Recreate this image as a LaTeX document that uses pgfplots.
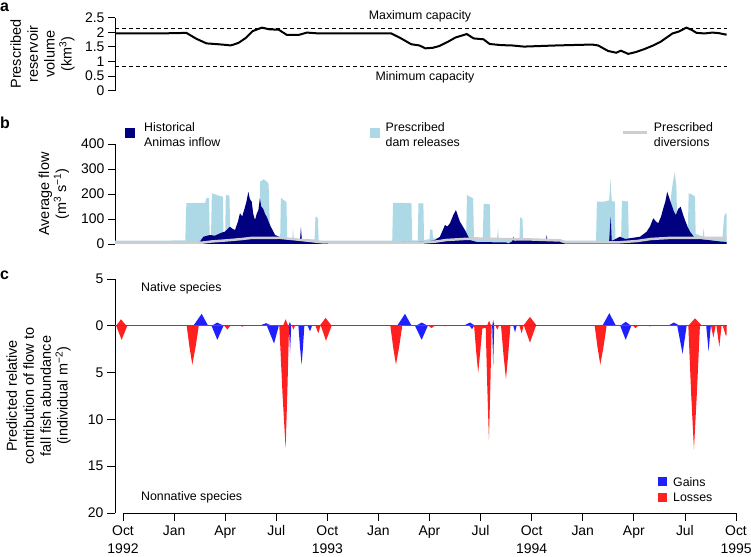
\documentclass[border=0pt]{standalone}
\usepackage{fontspec}
\setmainfont{Liberation Sans}
\usepackage{pgfplots}
\pgfplotsset{compat=1.18}
\definecolor{navyc}{RGB}{0,0,128}
\definecolor{lblue}{RGB}{173,216,230}
\definecolor{lgray}{RGB}{205,205,210}
\definecolor{rred}{RGB}{255,32,32}
\definecolor{bblue}{RGB}{32,32,255}
\pgfplotsset{
  common/.style={anchor=south west, scale only axis, width=621bp,
    xmin=-0.47, xmax=36, axis y line*=left,
    axis line style={-, line width=0.8bp, black},
    tick align=outside, major tick length=7bp,
    tick style={black, line width=0.8bp},
    tick label style={font=\fontsize{14}{16}\selectfont},
    /pgf/number format/assume math mode=true, clip=false}
}
\begin{document}
\begin{tikzpicture}[x=1bp,y=1bp]
\useasboundingbox (0,0) rectangle (751,557);

% ---------------- panel a
\begin{axis}[common, axis x line=none, at={(115bp,466.3bp)}, height=73bp, ymin=0, ymax=2.5,
  ytick={0,0.5,1,1.5,2,2.5}]
\addplot[black, line width=1bp, dash pattern=on 4bp off 3bp] coordinates {(-0.47,2.14)(35.45,2.14)};
\addplot[black, line width=1bp, dash pattern=on 4bp off 3bp] coordinates {(-0.47,0.82)(35.45,0.82)};
\addplot[black, line width=2bp] coordinates {
(-0.47,1.96)(0,1.96)(1,1.96)(2,1.96)(3,1.97)(3.72,1.98)(4.3,1.78)(4.9,1.62)(5.6,1.59)(6.0,1.57)(6.31,1.55)(6.5,1.58)(6.79,1.64)(7.2,1.8)(7.61,2.04)(8.16,2.16)(8.6,2.1)(9.14,2.09)(9.62,1.91)(10.32,1.91)(10.8,1.99)(11.5,1.96)(13,1.96)(15.75,1.96)(16.3,1.8)(16.93,1.59)(17.4,1.55)(17.76,1.45)(18.2,1.47)(18.58,1.53)(19.1,1.68)(19.52,1.82)(20.19,1.94)(20.59,1.79)(21.17,1.76)(21.53,1.6)(22.2,1.56)(22.83,1.55)(23.54,1.51)(25.5,1.55)(27.55,1.58)(27.9,1.55)(28.49,1.36)(28.96,1.30)(29.24,1.37)(29.67,1.26)(30.1,1.32)(30.6,1.42)(31.1,1.54)(31.56,1.67)(32.0,1.85)(32.27,1.96)(32.62,2.02)(33.09,2.16)(33.4,2.08)(33.68,1.98)(34.15,1.96)(34.62,1.99)(35.0,1.97)(35.33,1.93)(35.45,1.92)};
\end{axis}

% ---------------- panel b
\begin{axis}[common, axis x line=none, at={(115bp,313bp)}, height=100bp, ymin=0, ymax=400,
  ytick={0,100,200,300,400}]
\addplot[fill=lblue, draw=none] coordinates {
(-0.47,0)(-0.47,13)(1,13)(3.0,14)(3.66,14)(3.72,163)(4.2,164)(4.83,165)(4.9,183)(5.05,183)(5.09,35)(5.17,35)(5.22,203)(5.5,196)(5.86,189)(5.9,40)(6.0,40)(6.04,196)(6.25,194)(6.3,52)(7.0,52)(8.0,55)(8.05,249)(8.15,254)(8.27,259)(8.35,254)(8.45,250)(8.55,240)(8.63,60)(9.0,30)(9.23,22)(9.27,185)(9.45,175)(9.6,169)(9.64,20)(9.94,18)(9.98,63)(10.04,18)(11.0,18)(11.25,18)(11.3,105)(11.37,110)(11.45,100)(11.49,14)(12,13)(15.81,13)(15.86,165)(16.5,164)(16.94,163)(16.98,14)(17.31,14)(17.35,163)(17.64,162)(17.68,15)(18.0,20)(18.03,59)(18.18,55)(18.2,22)(20.15,25)(20.2,196)(20.35,190)(20.56,183)(20.61,28)(21.13,25)(21.18,160)(21.4,160)(21.54,158)(21.58,20)(21.96,15)(22.02,63)(22.07,15)(23.28,15)(23.32,107)(23.4,103)(23.46,100)(23.5,13)(27.78,13)(27.83,169)(28.3,170)(28.55,175)(28.63,259)(28.7,172)(28.88,169)(28.92,20)(29.25,20)(29.3,173)(29.5,171)(29.66,170)(29.7,22)(32.0,30)(32.2,200)(32.3,250)(32.4,287)(32.5,230)(32.55,60)(33.17,50)(33.22,203)(33.4,198)(33.59,190)(33.63,40)(34.05,30)(34.1,63)(34.15,25)(35.2,22)(35.3,110)(35.41,125)(35.45,120)(35.45,0)};
\addplot[fill=navyc, draw=none] coordinates {
(-0.47,0)(-0.47,6)(4.5,8)(4.72,29)(5.11,36)(5.4,33)(5.7,43)(6.0,50)(6.28,69)(6.45,60)(6.58,56)(6.75,90)(6.87,123)(7.0,110)(7.17,149)(7.25,170)(7.36,209)(7.45,180)(7.56,169)(7.65,120)(7.75,96)(7.85,120)(7.95,136)(8.04,183)(8.12,150)(8.24,140)(8.34,120)(8.44,109)(8.63,76)(8.93,36)(9.41,23)(10.2,16)(10.4,20)(10.45,67)(10.5,18)(10.98,16)(11.76,5)(16.07,6)(16.46,9)(17.0,8)(17.83,10)(18.3,15)(18.61,29)(18.91,76)(19.05,70)(19.2,83)(19.4,116)(19.55,136)(19.68,110)(19.79,89)(20.08,56)(20.37,16)(20.77,8)(22.5,6)(22.63,2)(22.85,10)(22.92,29)(23.0,10)(23.12,16)(23.9,16)(24.85,16)(24.88,36)(24.92,16)(25.66,14)(25.7,6)(28.01,8)(28.55,12)(28.64,109)(28.7,14)(28.79,15)(29.18,29)(29.5,20)(29.77,23)(30.36,29)(30.75,49)(30.95,70)(31.14,103)(31.3,90)(31.43,83)(31.6,110)(31.73,143)(31.85,170)(31.96,209)(32.1,180)(32.22,156)(32.35,130)(32.47,116)(32.6,140)(32.75,149)(32.88,120)(33.0,96)(33.15,70)(33.3,49)(33.59,23)(34.08,18)(35.06,10)(35.45,8)(35.45,0)};
\addplot[lgray, line width=2.5bp] coordinates {
(-0.47,5)(4.6,5)(5.2,10)(6.0,14)(7.0,20)(7.5,24)(9.2,25)(9.6,22)(10.2,18)(11.0,12)(11.8,6)(17.5,5)(18.4,10)(19.0,16)(20.0,20)(22,20)(24,18)(25.7,14)(26,6)(29,6)(30.2,12)(31,20)(32,24)(35.45,24)};
\end{axis}

% ---------------- panel c
\begin{axis}[common, at={(115bp,44bp)}, height=234bp, ymin=-20, ymax=5,
  axis x line*=bottom, x axis line style={draw=none},
  xtick={0,3,...,36},
  xticklabels={{Oct\\1992},Jan,Apr,Jul,{Oct\\1993},Jan,Apr,Jul,{Oct\\1994},Jan,Apr,Jul,{Oct\\1995}},
  xticklabel style={align=center, font=\fontsize{14}{18}\selectfont, yshift=-1bp},
  major tick length=8bp,
  ytick={-20,-15,-10,-5,0,5}, yticklabels={20,15,10,5,0,5}]
% native gains
\addplot[fill=bblue, draw=none] coordinates {
(4.13,0)(4.62,1.28)(5.0,0)(5.2,0)(5.54,0.35)(5.9,0)(8.0,0)(8.4,0.28)(8.75,0)(9.72,0)(9.8,0.4)(9.88,0)
(16.1,0)(16.56,1.28)(16.95,0)(17.2,0)(17.54,0.35)(17.9,0)(20.0,0)(20.38,0.35)(20.68,0)(21.68,0)(21.74,0.6)(21.8,0)
(28.15,0)(28.56,1.35)(28.95,0)(29.2,0)(29.52,0.43)(29.85,0)(32.0,0)(32.35,0.35)(32.7,0)};
% native losses
\addplot[fill=rred, draw=none] coordinates {
(-0.4,0)(-0.12,0.7)(0.2,0)(9.4,0)(9.55,0.7)(9.7,0)(11.55,0)(11.9,0.85)(12.25,0)
(21.38,0)(21.5,0.55)(21.62,0)(23.5,0)(23.9,0.95)(24.3,0)(33.2,0)(33.59,0.8)(34.0,0)};
% nonnative losses
\addplot[fill=rred, draw=none] coordinates {
(-0.4,0)(-0.08,-1.5)(0.25,0)
(3.74,0)(3.905,-2.28)(4.07,-4.15)(4.26,-2.28)(4.45,0)
(5.95,0)(6.13,-0.4)(6.3,0)(6.9,0)(7.0,-0.1)(7.1,0)
(9.18,0)(9.365,-7.2)(9.55,-13.1)(9.65,-7.2)(9.75,0)
(9.92,0)(10.0,-0.4)(10.1,0)(11.3,0)(11.47,-0.8)(11.6,0)(11.62,0)(11.92,-1.6)(12.25,0)
(15.7,0)(15.865,-2.28)(16.03,-4.15)(16.215,-2.28)(16.4,0)
(17.95,0)(18.12,-0.25)(18.3,0)(18.8,0)(18.9,-0.05)(19.0,0)
(20.62,0)(20.74,-2.75)(20.86,-5.0)(20.98,-2.75)(21.1,-0.3)(21.3,-0.2)
(21.395,-6.7)(21.49,-12.2)(21.57,-6.7)(21.65,0)
(21.88,0)(21.98,-0.4)(22.08,0)
(22.2,0)(22.345,-3.1)(22.49,-5.7)(22.62,-3.1)(22.75,0)
(23.28,0)(23.41,-0.8)(23.52,0)(23.55,0)(23.9,-1.8)(24.25,0)
(27.7,0)(27.865,-2.28)(28.03,-4.15)(28.215,-2.28)(28.4,0)
(29.95,0)(30.1,-0.25)(30.25,0)(30.85,0)(30.95,-0.05)(31.05,0)
(33.2,0)(33.365,-7.26)(33.53,-13.2)(33.7,-7.26)(33.88,0)
(34.53,0)(34.67,-1.25)(34.8,0)(34.85,0)(35.02,-2.25)(35.15,0)(35.22,0)(35.41,-1.1)(35.45,-0.9)(35.45,0)};
% nonnative gains
\addplot[fill=bblue, draw=none] coordinates {
(5.2,0)(5.54,-1.5)(5.9,0)(8.45,0)(8.87,-1.9)(9.15,0)(9.74,0)(9.81,-2.9)(9.88,0)
(10.3,0)(10.395,-2.28)(10.49,-4.15)(10.57,-2.28)(10.65,0)
(10.85,0)(10.98,-0.6)(11.1,0)(17.15,0)(17.54,-1.5)(17.9,0)(20.35,0)(20.5,-0.35)(20.62,0)
(21.68,0)(21.74,-4.25)(21.8,0)(22.92,0)(23.02,-0.7)(23.12,0)(29.2,0)(29.52,-1.5)(29.85,0)
(32.55,0)(32.86,-3.0)(33.1,0)(34.25,0)(34.39,-2.75)(34.52,0)};
\addplot[black!65, line width=0.9bp] coordinates {(-0.47,0)(35.45,0)};
\draw[black, line width=0.8bp] (axis cs:0,-20) -- (axis cs:36,-20);
\end{axis}

% ---------------- texts
\begin{scope}[every node/.style={inner sep=0pt}]
\node[anchor=base west, font=\fontsize{16}{18}\selectfont\bfseries] at (0,545) {a};
\node[anchor=base west, font=\fontsize{16}{18}\selectfont\bfseries] at (0,428.7) {b};
\node[anchor=base west, font=\fontsize{16}{18}\selectfont\bfseries] at (0,277) {c};

\node[rotate=90, align=center, font=\fontsize{14.5}{17}\selectfont] at (42.5,503) {Prescribed\\reservoir\\volume\\(km\textsuperscript{3})};
\node[rotate=90, align=center, font=\fontsize{14.5}{17}\selectfont] at (53.8,363) {Average flow\\(m\textsuperscript{3} s\textsuperscript{−1})};
\node[rotate=90, align=center, font=\fontsize{14.5}{17}\selectfont] at (38.6,161) {Predicted relative\\contribution of flow to\\fall fish abundance\\(individual m\textsuperscript{−2})};

\node[font=\fontsize{12.4}{14}\selectfont] at (420,540.3) {Maximum capacity};
\node[font=\fontsize{12.4}{14}\selectfont] at (425,479.7) {Minimum capacity};

\fill[navyc] (125,419) rectangle (135,429);
\node[anchor=west, align=left, font=\fontsize{12.4}{14.4}\selectfont] at (144,422.5) {Historical\\Animas inflow};
\fill[lblue] (369.5,419) rectangle (379.5,429);
\node[anchor=west, align=left, font=\fontsize{12.4}{14.4}\selectfont] at (385.5,422.5) {Prescribed\\dam releases};
\draw[lgray, line width=3bp] (622.6,424) -- (646.6,424);
\node[anchor=west, align=left, font=\fontsize{12.4}{14.4}\selectfont] at (653.7,422.5) {Prescribed\\diversions};

\node[anchor=west, font=\fontsize{12.4}{14}\selectfont] at (141,269) {Native species};
\node[anchor=west, font=\fontsize{12.4}{14}\selectfont] at (141,59.7) {Nonnative species};
\fill[bblue] (657.5,70.8) rectangle (666.5,79.8);
\node[anchor=west, font=\fontsize{12.4}{14}\selectfont] at (673,75.3) {Gains};
\fill[rred] (657.5,55.2) rectangle (666.5,64.2);
\node[anchor=west, font=\fontsize{12.4}{14}\selectfont] at (673,59.7) {Losses};
\end{scope}
\end{tikzpicture}
\end{document}
